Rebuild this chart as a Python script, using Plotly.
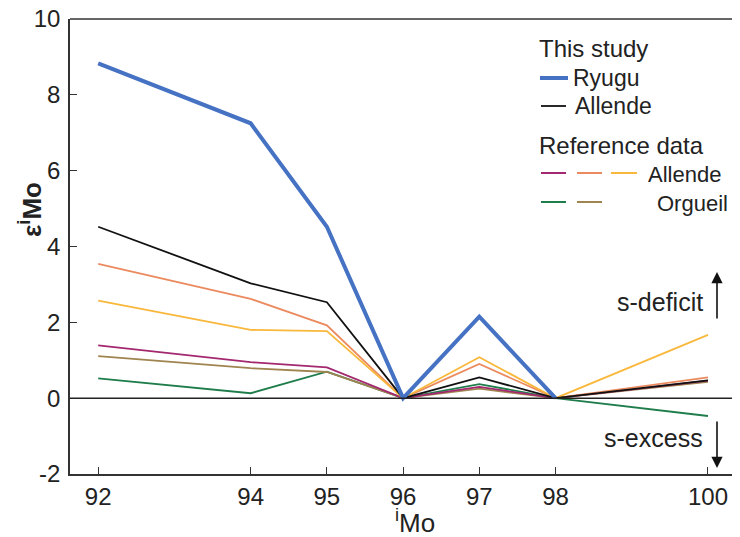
import plotly.graph_objects as go

masses = [92, 94, 95, 96, 97, 98, 100]
ryugu = [8.83, 7.25, 4.52, 0.0, 2.15, 0.0, None]
allende_this = [4.52, 3.03, 2.53, 0.0, 0.55, 0.0, 0.47]
ref_allende_1 = [1.39, 0.95, 0.81, 0.0, 0.30, 0.0, 0.46]
ref_allende_2 = [3.54, 2.62, 1.92, 0.0, 0.90, 0.0, 0.55]
ref_allende_3 = [2.57, 1.80, 1.77, 0.0, 1.08, 0.0, 1.67]
orgueil_1 = [0.52, 0.13, 0.70, 0.0, 0.37, 0.0, -0.47]
orgueil_2 = [1.11, 0.79, 0.69, 0.0, 0.25, 0.0, 0.43]
x_ticks = [92, 94, 95, 96, 97, 98, 100]
y_ticks = [-2, 0, 2, 4, 6, 8, 10]
y_tick_text = ["-2", "0", "2", "4", "6", "8", "10"]

C_BLUE = "#4672c4"
C_MAG = "#a3286f"
C_ORA = "#eb8a5e"
C_YEL = "#f9b83c"
C_GRN = "#1f7d4b"
C_BRN = "#a08450"

FONT = "Liberation Sans, Arial, sans-serif"
TXT = "#222222"

fig = go.Figure()
series = [
    (orgueil_1, C_GRN, 1.8),
    (orgueil_2, C_BRN, 1.8),
    (ref_allende_1, C_MAG, 1.8),
    (ref_allende_2, C_ORA, 1.8),
    (ref_allende_3, C_YEL, 1.8),
    (allende_this, "#111111", 1.8),
    (ryugu, C_BLUE, 4),
]
for ys, col, w in series:
    fig.add_trace(go.Scatter(x=masses, y=ys, mode="lines",
                             line=dict(color=col, width=w),
                             showlegend=False, connectgaps=False))

# page has an 8px body margin; compensate so the plot area sits at 70..740 x 19..474
W, H = 740, 537
OFF = 8
PL, PT, PR, PB = 70, 19, 740, 474
L, T = PL - OFF, PT - OFF
R = W - (PR - PL) - L
B = H - (PB - PT) - T
pw, ph = PR - PL, PB - PT


def px(x):
    return (x - PL) / pw


def py(y):
    return (PB - y) / ph


shapes = []
shapes.append(dict(type="line", xref="paper", yref="y", x0=0, x1=1, y0=0, y1=0,
                   line=dict(color="#222222", width=1.5)))
shapes.append(dict(type="line", xref="paper", yref="paper", x0=0, x1=1, y0=1, y1=1,
                   line=dict(color="#333333", width=1.5)))


def seg(x0, x1, y, col, w=2):
    shapes.append(dict(type="line", xref="paper", yref="paper",
                       x0=px(x0), x1=px(x1), y0=py(y), y1=py(y),
                       line=dict(color=col, width=w)))


seg(540, 568, 78, C_BLUE, 4)
seg(541, 566, 106, "#111111", 1.8)
seg(541, 566, 173, C_MAG, 2)
seg(577, 602, 173, C_ORA, 2)
seg(611, 637, 173, C_YEL, 2)
seg(541, 566, 202, C_GRN, 2)
seg(577, 602, 202, C_BRN, 2)

annotations = []


def txt(x, y, s, anchor="left", size=23, textangle=0):
    annotations.append(dict(xref="paper", yref="paper", x=px(x), y=py(y), text=s,
                            showarrow=False, xanchor=anchor, yanchor="middle",
                            textangle=textangle,
                            font=dict(family=FONT, size=size, color=TXT)))


txt(537, 48, "This study", size=24)
txt(571, 78, "Ryugu")
txt(573, 106, "Allende")
txt(537, 145, "Reference data", size=24)
txt(646, 174, "Allende", size=22)
txt(655, 203, "Orgueil", size=22)
txt(705, 302, "s-deficit", anchor="right", size=25)
txt(705, 438, "s-excess", anchor="right", size=25)
txt(415, 521, "<sup>i</sup>Mo", anchor="center", size=26)
txt(31, 210, "<b>ε<sup>i</sup>Mo</b>", anchor="center", size=26, textangle=-90)

annotations.append(dict(xref="paper", yref="paper", axref="pixel", ayref="pixel",
                        x=px(717), y=py(272), ax=0, ay=48, text="",
                        showarrow=True, arrowhead=2, arrowsize=1.4, arrowwidth=1.6,
                        arrowcolor="#111111"))
annotations.append(dict(xref="paper", yref="paper", axref="pixel", ayref="pixel",
                        x=px(717), y=py(468), ax=0, ay=-48, text="",
                        showarrow=True, arrowhead=2, arrowsize=1.4, arrowwidth=1.6,
                        arrowcolor="#111111"))

fig.update_layout(
    width=W, height=H,
    margin=dict(l=L, r=R, t=T, b=B, autoexpand=False),
    paper_bgcolor="white", plot_bgcolor="white",
    font=dict(family=FONT, size=24, color=TXT),
    shapes=shapes, annotations=annotations,
    xaxis=dict(range=[91.63, 100.42], tickvals=x_ticks, ticktext=[str(v) for v in x_ticks],
               showgrid=False, zeroline=False, showline=True, linecolor="#333333",
               linewidth=1.5, ticks="inside", ticklen=7, tickcolor="#333333",
               tickfont=dict(size=24), ticklabeloverflow="allow", automargin=False),
    yaxis=dict(range=[-2, 10], tickvals=y_ticks, ticktext=y_tick_text,
               showgrid=False, zeroline=False,
               showline=True, linecolor="#333333", linewidth=1.5, ticks="inside",
               ticklen=7, tickcolor="#333333", tickfont=dict(size=24),
               ticklabelstandoff=3, ticklabeloverflow="allow", automargin=False),
)

fig.write_html("out.html")
